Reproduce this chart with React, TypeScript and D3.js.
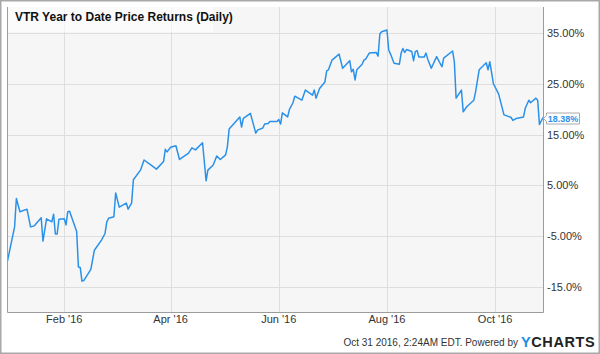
import * as d3 from "d3";

// VTR year-to-date price return (%)
const dates = [
  "2015-12-31", "2016-01-04", "2016-01-05", "2016-01-07", "2016-01-11", "2016-01-13", "2016-01-15", "2016-01-19", "2016-01-20", "2016-01-22", "2016-01-25", "2016-01-26", "2016-01-27", "2016-01-28", "2016-01-29",
  "2016-02-01", "2016-02-02", "2016-02-03", "2016-02-04", "2016-02-08", "2016-02-09", "2016-02-10", "2016-02-11", "2016-02-12", "2016-02-16", "2016-02-18", "2016-02-22", "2016-02-24", "2016-02-25", "2016-02-26", "2016-02-29",
  "2016-03-01", "2016-03-03", "2016-03-07", "2016-03-08", "2016-03-10", "2016-03-11", "2016-03-15", "2016-03-17", "2016-03-21", "2016-03-24", "2016-03-28", "2016-03-29", "2016-03-30",
  "2016-04-01", "2016-04-04", "2016-04-06", "2016-04-11", "2016-04-13", "2016-04-15", "2016-04-19", "2016-04-21", "2016-04-22", "2016-04-25", "2016-04-27", "2016-04-29",
  "2016-05-02", "2016-05-03", "2016-05-04", "2016-05-06", "2016-05-10", "2016-05-11", "2016-05-12", "2016-05-16", "2016-05-19", "2016-05-20", "2016-05-23", "2016-05-24", "2016-05-26", "2016-05-27", "2016-05-31",
  "2016-06-01", "2016-06-02", "2016-06-03", "2016-06-06", "2016-06-07", "2016-06-09", "2016-06-10", "2016-06-14", "2016-06-16", "2016-06-20", "2016-06-21", "2016-06-22", "2016-06-24", "2016-06-27", "2016-06-28", "2016-06-29",
  "2016-07-01", "2016-07-05", "2016-07-07", "2016-07-11", "2016-07-12", "2016-07-13", "2016-07-14", "2016-07-15", "2016-07-18", "2016-07-19", "2016-07-20", "2016-07-22", "2016-07-26", "2016-07-27", "2016-07-28", "2016-07-29",
  "2016-08-01", "2016-08-02", "2016-08-03", "2016-08-05", "2016-08-08", "2016-08-09", "2016-08-10", "2016-08-11", "2016-08-12", "2016-08-15", "2016-08-16", "2016-08-17", "2016-08-18", "2016-08-19", "2016-08-22", "2016-08-23", "2016-08-24", "2016-08-26", "2016-08-29",
  "2016-09-01", "2016-09-02", "2016-09-07", "2016-09-08", "2016-09-09", "2016-09-12", "2016-09-13", "2016-09-15", "2016-09-19", "2016-09-20", "2016-09-22", "2016-09-26", "2016-09-27", "2016-09-28", "2016-09-30",
  "2016-10-03", "2016-10-06", "2016-10-10", "2016-10-11", "2016-10-13", "2016-10-17", "2016-10-18", "2016-10-20", "2016-10-21", "2016-10-24", "2016-10-25", "2016-10-26", "2016-10-28",
];

const returns = [
  -9.9, -3.2, 2.4, -0.2, 0.3, -3.2, -3.0, -1.4, -6.0, -1.6, -2.2, -0.7, -4.6, -4.6, -1.7,
  -1.6, -2.8, -0.2, -0.1, -4.1, -11.1, -11.2, -13.9, -13.8, -11.6, -7.8, -5.8, -4.5, -2.2, -1.5, -1.2,
  3.5, 0.7, 1.5, 0.3, 1.5, 6.1, 8.0, 10.0, 9.0, 8.2, 9.7, 12.1, 11.6,
  12.5, 12.8, 10.1, 11.3, 12.4, 12.0, 13.4, 5.9, 8.0, 9.0, 10.8, 10.1,
  11.0, 12.6, 16.1, 16.9, 18.5, 16.5, 18.2, 19.2, 15.3, 15.9, 16.3, 17.1, 17.2, 17.6, 17.6,
  18.0, 17.1, 19.3, 18.5, 20.0, 21.3, 22.6, 21.8, 23.8, 22.8, 23.8, 22.2, 24.1, 25.4, 27.6, 27.8,
  29.7, 30.9, 28.1, 29.6, 27.4, 27.9, 25.8, 27.8, 28.9, 29.7, 29.9, 31.1, 31.2, 30.5, 34.9, 35.3,
  35.65, 31.7, 30.9, 29.1, 28.9, 31.1, 32.0, 31.2, 31.8, 31.4, 29.6, 31.4, 31.6, 30.3, 30.3, 31.1, 29.9, 28.1, 30.4,
  28.4, 30.1, 31.5, 29.4, 22.2, 23.8, 19.5, 20.5, 21.8, 23.5, 27.8, 29.2, 27.8, 29.4, 25.1,
  23.0, 18.9, 18.4, 17.8, 18.2, 18.5, 20.2, 21.8, 21.3, 22.2, 21.8, 17.0, 18.38,
];

const yTicks = [35, 25, 15, 5, -5, -15];
const yTickLabels = ["35.00%", "25.00%", "15.00%", "5.00%", "-5.00%", "-15.0%"];
const xTickDates = ["2016-02-01", "2016-04-01", "2016-06-01", "2016-08-01", "2016-10-01"];
const xTickLabels = ["Feb '16", "Apr '16", "Jun '16", "Aug '16", "Oct '16"];

const title = "VTR Year to Date Price Returns (Daily)";
const footer = "Oct 31 2016, 2:24AM EDT.  Powered by";
const lastLabel = "18.38%";

const W = 600;
const H = 354;
const plot = { left: 7, right: 543, top: 7, bottom: 312 };
const font = "'Liberation Sans', Arial, Helvetica, sans-serif";
const blue = "#2b91e8";

const parse = d3.utcParse("%Y-%m-%d");

export default function App() {
  const points = dates.map((d, i) => ({ date: parse(d) as Date, value: returns[i] }));
  const x = d3
    .scaleUtc()
    .domain([parse("2015-12-31") as Date, parse("2016-10-28") as Date])
    .range([plot.left + 0.5, plot.right]);
  const y = d3.scaleLinear().domain([-15, 35]).range([286.7, 33.3]);
  const line = d3
    .line<{ date: Date; value: number }>()
    .x((p) => x(p.date))
    .y((p) => y(p.value));

  const last = points[points.length - 1];
  const ly = Math.round(y(last.value)) + 0.5;

  return (
    <div style={{ position: "fixed", left: 0, top: 0 }}>
      <svg width={W} height={H} viewBox={`0 0 ${W} ${H}`} style={{ display: "block", fontFamily: font }}>
        <rect x={0} y={0} width={W} height={H} fill="#fff" />
        <rect x={0.75} y={0.75} width={W - 1.5} height={H - 1.5} fill="none" stroke="#a8a8a8" strokeWidth={1.5} />
        <rect x={plot.left} y={plot.top} width={plot.right - plot.left} height={plot.bottom - plot.top} fill="#f6f6f6" />
        {yTicks.map((t) => (
          <line key={t} x1={plot.left} x2={plot.right} y1={Math.round(y(t)) + 0.5} y2={Math.round(y(t)) + 0.5} stroke="#dedede" />
        ))}
        {xTickDates.map((d) => {
          const px = Math.round(x(parse(d) as Date)) + 0.5;
          return <line key={d} x1={px} x2={px} y1={plot.top} y2={plot.bottom} stroke="#dedede" />;
        })}
        <rect x={plot.left} y={plot.top} width={206} height={25} fill="#ffffff" fillOpacity={0.6} />
        <text x={15} y={21} fontSize={12} fontWeight="bold" fill="#111">{title}</text>
        <path d={line(points) ?? ""} fill="none" stroke={blue} strokeWidth={1.5} strokeLinejoin="round" />
        <path
          d={`M${plot.left + 0.5},${plot.top} V${plot.bottom + 0.5} H${plot.right + 0.5} V${plot.top}`}
          fill="none"
          stroke="#9c9c9c"
        />
        {yTicks.map((t, i) => (
          <text key={t} x={547} y={y(t) + 4} fontSize={11} fill="#333">{yTickLabels[i]}</text>
        ))}
        {xTickDates.map((d, i) => (
          <text key={d} x={x(parse(d) as Date)} y={323} fontSize={11} fill="#333" textAnchor="middle">{xTickLabels[i]}</text>
        ))}
        <path
          d={`M543.5,${ly} L546.5,${ly - 3} V${ly - 5.5} H579.5 V${ly + 5.5} H546.5 V${ly + 3} Z`}
          fill="#fff"
          stroke="#aaa"
        />
        <text x={563} y={ly + 3.3} fontSize={9} fontWeight="bold" fill={blue} textAnchor="middle">{lastLabel}</text>
        <text x={518} y={346} fontSize={10} fill="#333" textAnchor="end">{footer}</text>
        <text x={521} y={347} fontSize={14.5} fontWeight="bold" letterSpacing={0.6}>
          <tspan fill="#1a8fe8">Y</tspan>
          <tspan fill="#222">CHARTS</tspan>
        </text>
      </svg>
    </div>
  );
}
